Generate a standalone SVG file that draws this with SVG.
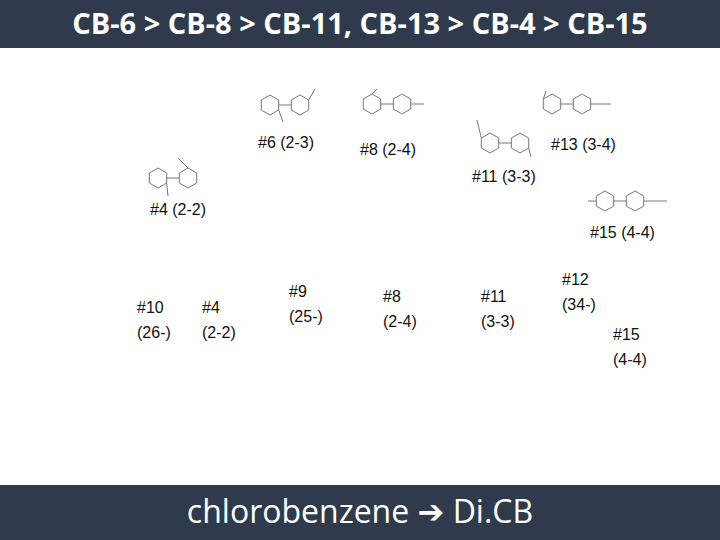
<svg xmlns="http://www.w3.org/2000/svg" xmlns:xlink="http://www.w3.org/1999/xlink" width="720" height="540" viewBox="0 0 720 540">
<style>
.bar{fill:#2f3b4c}
.hd{font-family:"Open Sans","Liberation Sans",sans-serif;fill:#fff;font-size:29px;font-weight:bold;text-anchor:middle}
.ft{font-family:"Open Sans","Liberation Sans",sans-serif;fill:#fff;font-size:32px;text-anchor:middle}
.lb{font-family:"Liberation Sans",Arial,sans-serif;font-size:16px;fill:#111}
.ln{stroke:#777;stroke-width:1;fill:none}
</style>
<defs>
<polygon id="hx" points="0,-10 8.7,-5 8.7,5 0,10 -8.7,5 -8.7,-5" class="ln"/>
<g id="bp"><use xlink:href="#hx"/><use xlink:href="#hx" x="30"/><line x1="8.7" y1="0" x2="21.3" y2="0" class="ln"/></g>
</defs>
<rect class="bar" x="0" y="0" width="720" height="48"/>
<text class="hd" x="360" y="34">CB-6 &gt; CB-8 &gt; CB-11, CB-13 &gt; CB-4 &gt; CB-15</text>
<rect class="bar" x="0" y="485" width="720" height="55"/>
<text class="ft" x="360" y="523">chlorobenzene <tspan font-family="DejaVu Sans" font-weight="bold">➔</tspan> Di.CB</text>
<g id="m6"><use xlink:href="#bp" x="270" y="105"/><line class="ln" x1="308.7" y1="100" x2="315" y2="89"/><line class="ln" x1="278.7" y1="110" x2="283" y2="122"/></g>
<g id="m8"><use xlink:href="#bp" x="372" y="104"/><line class="ln" x1="372" y1="94" x2="377" y2="89"/><line class="ln" x1="410.7" y1="104" x2="424" y2="104"/></g>
<g id="m13"><use xlink:href="#bp" x="552" y="104"/><line class="ln" x1="543.3" y1="99" x2="546" y2="91"/><line class="ln" x1="590.7" y1="104" x2="611" y2="104"/></g>
<g id="m11"><use xlink:href="#bp" x="490" y="143"/><line class="ln" x1="481.3" y1="138" x2="477" y2="120"/><line class="ln" x1="528.7" y1="148" x2="531" y2="157"/></g>
<g id="m15"><use xlink:href="#bp" x="605" y="201"/><line class="ln" x1="596.3" y1="201" x2="588" y2="201"/><line class="ln" x1="643.7" y1="201" x2="667" y2="201"/></g>
<g id="m4"><use xlink:href="#bp" x="158" y="178"/><line class="ln" x1="188" y1="168" x2="178" y2="158"/><line class="ln" x1="166.7" y1="183" x2="168" y2="196"/></g>
<g id="labels" class="lb">
<text x="258" y="148">#6 (2-3)</text>
<text x="360" y="155">#8 (2-4)</text>
<text x="551" y="150">#13 (3-4)</text>
<text x="472" y="182">#11 (3-3)</text>
<text x="150" y="215">#4 (2-2)</text>
<text x="590" y="238">#15 (4-4)</text>
<text x="137" y="313">#10</text><text x="137" y="338">(26-)</text>
<text x="202" y="313">#4</text><text x="202" y="338">(2-2)</text>
<text x="289" y="297">#9</text><text x="289" y="322">(25-)</text>
<text x="383" y="302">#8</text><text x="383" y="327">(2-4)</text>
<text x="481" y="302">#11</text><text x="481" y="327">(3-3)</text>
<text x="562" y="285">#12</text><text x="562" y="310">(34-)</text>
<text x="613" y="340">#15</text><text x="613" y="365">(4-4)</text>
</g>
</svg>
